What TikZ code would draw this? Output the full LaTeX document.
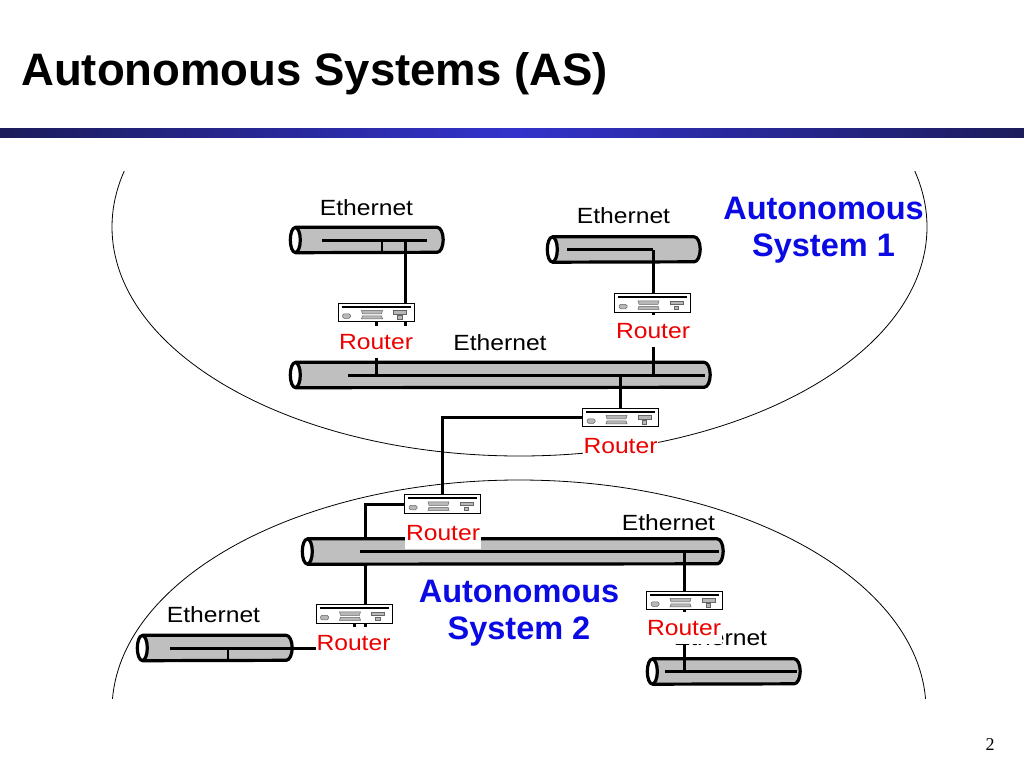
\documentclass[tikz,border=0pt]{standalone}
\usepackage{fontspec}
\setmainfont{Liberation Sans}
\newfontfamily\labelfont[FakeStretch=1.12]{Liberation Sans}
\newfontfamily\pagefont{Liberation Serif}
\pgfdeclarelayer{back}
\pgfdeclarelayer{tubes}
\pgfdeclarelayer{wires}
\pgfsetlayers{back,tubes,wires,main}
\definecolor{tubegray}{gray}{0.75}
\definecolor{partgray}{gray}{0.72}
\definecolor{asblue}{rgb}{0.04,0.04,0.9}
\definecolor{routerred}{rgb}{0.93,0,0}
\definecolor{bardark}{rgb}{0.11,0.11,0.36}
\definecolor{barmid}{rgb}{0.2,0.2,0.8}

\begin{document}
\begin{tikzpicture}[x=1pt,y=-1pt,
  ethernet/.style={rectangle, draw=none, minimum height=25pt, inner sep=0pt},
  tubeline/.style={line width=3.2pt, line join=round},
  bus/.style={line width=3pt},
  tap/.style={line width=1.4pt},
  wire/.style={line width=3pt},
  devpart/.style={fill=partgray, draw=black!60, line width=0.5pt},
  router/.style={draw, line width=1pt, fill=white, minimum width=76pt, minimum height=18.5pt, inner sep=0pt},
  routerlbl/.style={fill=white, text=routerred, font=\labelfont\fontsize{22}{22}\selectfont,
    anchor=base, inner xsep=1pt, inner ysep=2pt, text height=21pt, text depth=6.5pt},
  ethlbl/.style={font=\labelfont\fontsize{22}{22}\selectfont, anchor=base, inner sep=0pt},
  aslbl/.style={text=asblue, font=\bfseries\fontsize{32.5}{37}\selectfont, align=center, inner sep=0pt}
]
\useasboundingbox (0,0) rectangle (1024,768);

% title and bar
\node[anchor=base west, font=\bfseries\fontsize{45.5}{50}\selectfont, inner sep=0pt] (title) at (21,85) {Autonomous Systems (AS)};
\shade[left color=bardark, right color=bardark, middle color=barmid] (0,128) rectangle (1024,137);
\node[anchor=base, font=\pagefont\fontsize{18}{18}\selectfont, inner sep=0pt] (page) at (990,750) {2};

% the two systems
\begin{pgfonlayer}{back}
\begin{scope}
\clip (0,171) rectangle (1024,698);
\draw[line width=0.8pt] (519.5,227) ellipse [x radius=407.5, y radius=229];
\draw[line width=0.8pt] (519,710) ellipse [x radius=407, y radius=230];
\end{scope}
\end{pgfonlayer}

% ethernets
\begin{pgfonlayer}{tubes}
\node[ethernet, minimum width=153pt] (e1) at (366.5,240) {};
\node[ethernet, minimum width=153pt] (e2) at (623.5,249.5) {};
\node[ethernet, minimum width=420pt] (e3) at (500,375) {};
\node[ethernet, minimum width=421pt] (e4) at (512.5,551.5) {};
\node[ethernet, minimum width=155pt] (e5) at (214.5,648) {};
\node[ethernet, minimum width=153pt] (e6) at (723.5,671.5) {};

\foreach \t in {e1,e2,e3,e4,e5,e6} {
  \filldraw[tubeline, fill=tubegray] ([xshift=5.5pt]\t.north west) -- ([xshift=-6pt]\t.north east)
    arc[start angle=-90, end angle=90, x radius=6, y radius=12.5]
    -- ([xshift=5.5pt]\t.south west) -- cycle;
  \filldraw[tubeline, fill=white] ([xshift=5.5pt]\t.west) ellipse [x radius=5, y radius=12.5];
}

\draw[bus] ([xshift=-44.5pt]e1.center) -- ([xshift=60.5pt]e1.center);
\draw[tap] ([xshift=15.5pt]e1.center) -- ([xshift=15.5pt,yshift=-12pt]e1.center);
\draw[bus] ([xshift=-56.5pt]e2.center) -- ([xshift=29.5pt]e2.center);
\draw[bus] ([xshift=-152pt]e3.center) -- ([xshift=205pt]e3.center);
\draw[bus] ([xshift=-152.5pt]e4.center) -- ([xshift=206pt]e4.center);
\draw[tap] ([xshift=13.5pt]e5.center) -- ([xshift=13.5pt,yshift=-11.5pt]e5.center);
\draw[bus] ([xshift=-58.5pt]e6.center) -- ([xshift=73.5pt]e6.center);
\end{pgfonlayer}

% routers
\node[router] (r1) at (376,312.5) {};
\node[router] (r2) at (652.5,303) {};
\node[router] (r3) at (620.5,417.5) {};
\node[router] (r4) at (442.5,504) {};
\node[router] (r5) at (354,614) {};
\node[router] (r6) at (684.5,600.5) {};

\foreach \r in {r1,r2,r3,r4,r5,r6} {
  \begin{scope}[shift={(\r.north west)}]
    \draw[line width=2.2pt] (4,4) -- (73,4);
    \filldraw[devpart, rounded corners=1.5pt] (5,11) rectangle (13,15.5);
    \filldraw[devpart] (24,7.5) -- (45,7.5) -- (44,11) -- (25,11) -- cycle;
    \filldraw[devpart] (25,13) -- (44,13) -- (45,16) -- (24,16) -- cycle;
    \filldraw[devpart] (56,7.5) rectangle (69,11);
    \filldraw[devpart] (60,12.5) rectangle (64.5,16);
  \end{scope}
}

\node[ethlbl] (n1) at (366.5,215) {Ethernet};
\node[ethlbl] (n2) at (623.5,223) {Ethernet};
\node[ethlbl] (n3) at (500,350) {Ethernet};
\node[ethlbl] (n4) at (668.5,530) {Ethernet};
\node[ethlbl] (n5) at (213.5,622) {Ethernet};
\node[ethlbl] (n6) at (720.5,645) {Ethernet};

\node[routerlbl] (l1) at (376,349) {Router};
\node[routerlbl] (l2) at (653,338) {Router};
\node[routerlbl] (l3) at (620.5,453) {Router};
\node[routerlbl] (l4) at (443,540) {Router};
\node[routerlbl] (l5) at (353.5,650) {Router};
\node[routerlbl] (l6) at (684,635) {Router};

\node[aslbl] (as1) at (823.5,230) {Autonomous\\System 1};
\node[aslbl] (as2) at (519,613.5) {Autonomous\\System 2};

% links
\begin{pgfonlayer}{wires}
\draw[wire] ([xshift=38.5pt]e1.center) -- ([xshift=38.5pt]e1.center |- l1.center);
\draw[wire] (r1.south) -- (r1.south |- e3.center);
\draw[wire] ([xshift=29.5pt]e2.center) -- ([xshift=29.5pt]e2.center |- e3.center);
\draw[wire] (r3.north |- e3.center) -- (r3.north);
\draw[wire] (r3.west) -| (r4.north);
\draw[wire] ([xshift=-44.5pt]e5.center) -| (r5.south);
\draw[wire] (r6.center |- e4.center) -- (r6.center |- e6.center);
\end{pgfonlayer}
\begin{pgfonlayer}{back}
\draw[wire] (r4.west) -| ([xshift=12pt]l5.center);
\end{pgfonlayer}
\end{tikzpicture}
\end{document}
